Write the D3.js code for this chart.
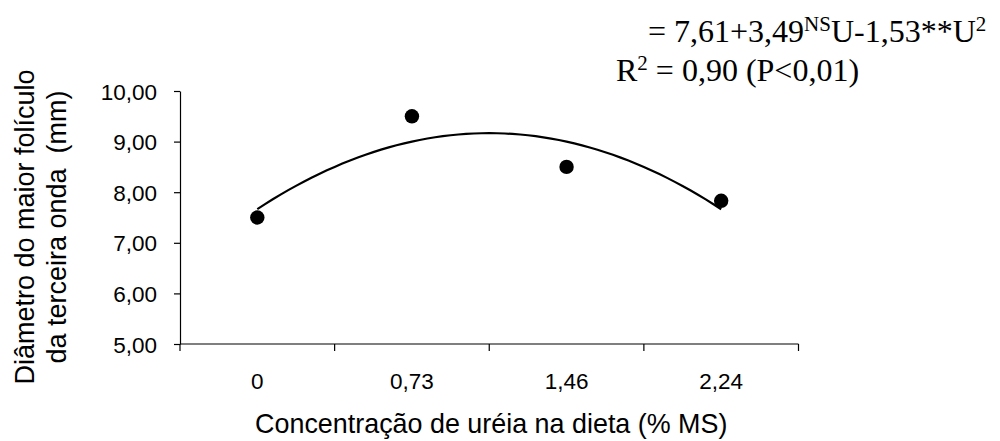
<!DOCTYPE html>
<html>
<head>
<meta charset="utf-8">
<script src="https://cdn.jsdelivr.net/npm/d3@7"></script>
<style>
  html, body { margin: 0; padding: 0; background: #fff; }
  svg { display: block; }
</style>
</head>
<body>
<svg id="chart" width="1000" height="441"></svg>
<script>
// Urea concentration in the diet (% DM) and mean diameter of the largest follicle (mm)
const categories = ["0", "0,73", "1,46", "2,24"];
const diameters = [7.50, 9.50, 8.50, 7.83];
const yTicks = [5, 6, 7, 8, 9, 10];

const svg = d3.select("#chart");
const sans = "'Liberation Sans', Arial, sans-serif";
const serif = "'Liberation Serif', 'Times New Roman', serif";

const plot = { left: 180, right: 798.5, top: 91, bottom: 344 };

const x = d3.scaleBand().domain(categories).range([plot.left, plot.right]).padding(0);
const y = d3.scaleLinear().domain([5, 10]).range([plot.bottom, plot.top]);
const cx = c => x(c) + x.bandwidth() / 2;

// Axes
const fmt = v => v.toFixed(2).replace(".", ",");
const yAxis = svg.append("g")
  .attr("transform", `translate(${plot.left},0)`)
  .call(d3.axisLeft(y).tickValues(yTicks).tickFormat(fmt).tickSize(6).tickSizeOuter(0).tickPadding(17));
yAxis.select(".domain").attr("stroke", "#000").attr("stroke-width", 1.2);
yAxis.selectAll(".tick line").attr("stroke", "#000").attr("stroke-width", 1.2);
yAxis.selectAll(".tick text")
  .attr("font-family", sans).attr("font-size", 22.5).attr("fill", "#000")
  .attr("dy", "0.36em");

const xAxis = svg.append("g").attr("transform", `translate(0,${plot.bottom})`);
xAxis.append("line")
  .attr("x1", plot.left).attr("x2", plot.right)
  .attr("stroke", "#000").attr("stroke-width", 1.2);
// Tick marks sit on the category boundaries
const bounds = categories.map(c => x(c)).concat([plot.right]);
xAxis.selectAll("line.tk").data(bounds).join("line").attr("class", "tk")
  .attr("x1", d => d).attr("x2", d => d).attr("y1", 0).attr("y2", 7)
  .attr("stroke", "#000").attr("stroke-width", 1.2);
xAxis.selectAll("text").data(categories).join("text")
  .attr("x", d => cx(d)).attr("y", 45)
  .attr("text-anchor", "middle")
  .attr("font-family", sans).attr("font-size", 22.5).attr("fill", "#000")
  .text(d => d);

// Second-order trendline fitted (least squares) to the means over the category positions
const idx = categories.map((_, i) => i + 1);
function quadFit(xs, ys) {
  const n = xs.length;
  let s = [0, 0, 0, 0, 0], t = [0, 0, 0];
  for (let i = 0; i < n; i++) {
    const xi = xs[i], yi = ys[i];
    for (let k = 0; k <= 4; k++) s[k] += Math.pow(xi, k);
    for (let k = 0; k <= 2; k++) t[k] += yi * Math.pow(xi, k);
  }
  const M = [[s[0], s[1], s[2], t[0]], [s[1], s[2], s[3], t[1]], [s[2], s[3], s[4], t[2]]];
  for (let c = 0; c < 3; c++) {
    for (let r = c + 1; r < 3; r++) {
      const f = M[r][c] / M[c][c];
      for (let k = c; k < 4; k++) M[r][k] -= f * M[c][k];
    }
  }
  const b = [0, 0, 0];
  for (let r = 2; r >= 0; r--) {
    let v = M[r][3];
    for (let k = r + 1; k < 3; k++) v -= M[r][k] * b[k];
    b[r] = v / M[r][r];
  }
  return b;
}
const coef = quadFit(idx, diameters);
const posX = d3.scaleLinear().domain([1, categories.length]).range([cx(categories[0]), cx(categories[categories.length - 1])]);
const trend = d3.range(1, categories.length + 0.001, 0.05).map(u => [u, coef[0] + coef[1] * u + coef[2] * u * u]);
svg.append("path")
  .datum(trend)
  .attr("fill", "none").attr("stroke", "#000").attr("stroke-width", 2.2)
  .attr("d", d3.line().x(d => posX(d[0])).y(d => y(d[1])));

// Means
svg.selectAll("circle.pt").data(categories).join("circle").attr("class", "pt")
  .attr("cx", d => cx(d)).attr("cy", (d, i) => y(diameters[i])).attr("r", 7.2)
  .attr("fill", "#000");

// Axis titles
svg.append("text")
  .attr("x", (plot.left + plot.right) / 2 + 2).attr("y", 433)
  .attr("text-anchor", "middle")
  .attr("font-family", sans).attr("font-size", 26.9).attr("fill", "#000")
  .text("Concentração de uréia na dieta (% MS)");

const yTitle = svg.append("text")
  .attr("transform", "translate(34,227) rotate(-90)")
  .attr("text-anchor", "middle")
  .attr("font-family", sans).attr("font-size", 27).attr("fill", "#000")
  .style("white-space", "pre");
yTitle.append("tspan").attr("x", 0).attr("y", 0).text("Diâmetro do maior folículo");
yTitle.append("tspan").attr("x", 0).attr("y", 32).text("da terceira onda  (mm)");

// Regression equation
const eq = svg.append("g").attr("font-family", serif).attr("fill", "#000");
const l1 = eq.append("text").attr("x", 648).attr("y", 41.7).attr("font-size", 32);
l1.append("tspan").text("= 7,61+3,49");
l1.append("tspan").attr("font-size", 21).attr("dy", -11).text("NS");
l1.append("tspan").attr("dy", 11).text("U-1,53**U");
l1.append("tspan").attr("font-size", 21).attr("dy", -11).text("2");

const l2 = eq.append("text").attr("x", 616).attr("y", 81).attr("font-size", 32);
l2.append("tspan").text("R");
l2.append("tspan").attr("font-size", 21).attr("dy", -11).text("2");
l2.append("tspan").attr("dy", 11).text(" = 0,90 (P<0,01)");
</script>
</body>
</html>
